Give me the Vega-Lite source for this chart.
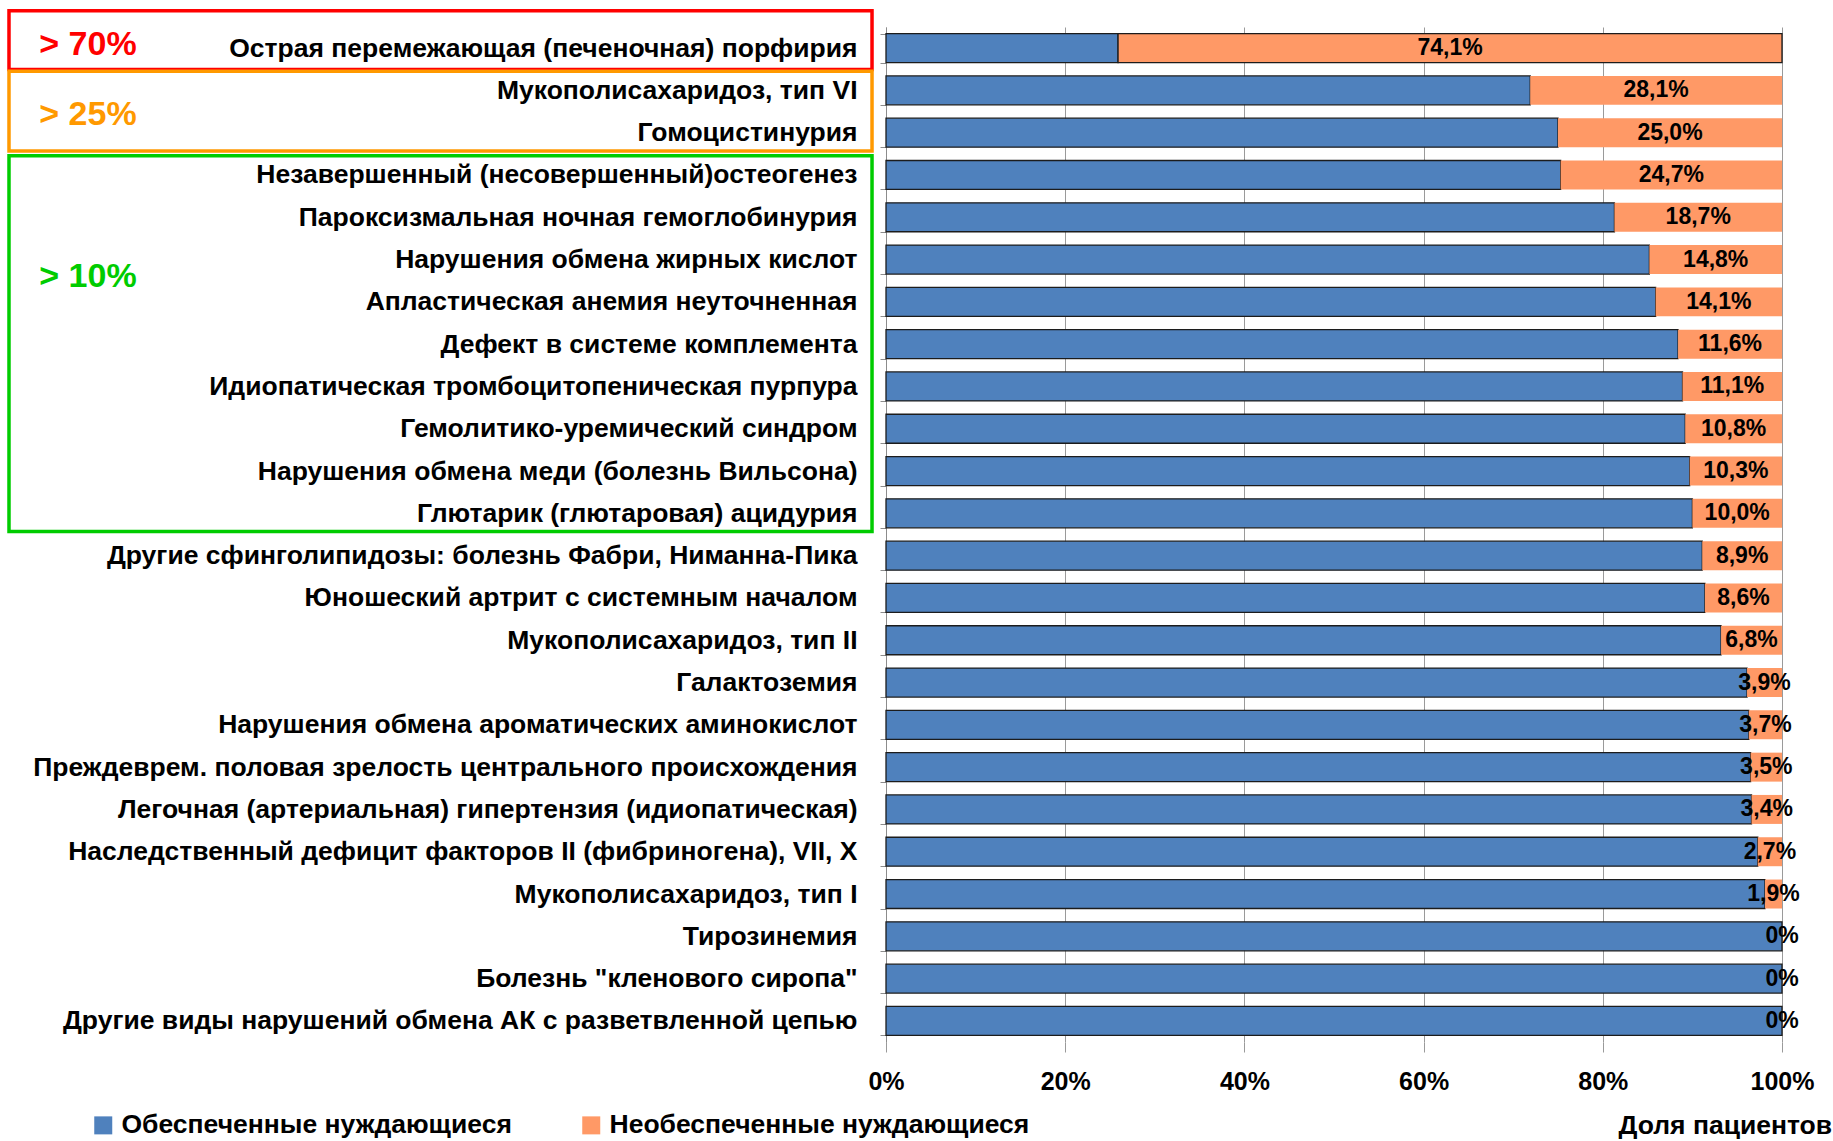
{
  "$schema": "https://vega.github.io/schema/vega-lite/v6.json",
  "autosize": "none",
  "padding": {"left": 886, "top": 27, "right": 51, "bottom": 99},
  "width": 896,
  "height": 1015,
  "background": "white",
  "config": {
    "view": {"stroke": null},
    "font": "Liberation Sans",
    "locale": {"number": {"decimal": ",", "thousands": " ", "grouping": [3], "currency": ["", " ₽"]}}
  },
  "datasets": {
    "bars": [
      {"name": "Острая перемежающая (печеночная) порфирия", "status": "Обеспеченные нуждающиеся", "pct": 0.259},
      {"name": "Острая перемежающая (печеночная) порфирия", "status": "Необеспеченные нуждающиеся", "pct": 0.741},
      {"name": "Мукополисахаридоз, тип VI", "status": "Обеспеченные нуждающиеся", "pct": 0.719},
      {"name": "Мукополисахаридоз, тип VI", "status": "Необеспеченные нуждающиеся", "pct": 0.281},
      {"name": "Гомоцистинурия", "status": "Обеспеченные нуждающиеся", "pct": 0.75},
      {"name": "Гомоцистинурия", "status": "Необеспеченные нуждающиеся", "pct": 0.25},
      {"name": "Незавершенный (несовершенный)остеогенез", "status": "Обеспеченные нуждающиеся", "pct": 0.753},
      {"name": "Незавершенный (несовершенный)остеогенез", "status": "Необеспеченные нуждающиеся", "pct": 0.247},
      {"name": "Пароксизмальная  ночная гемоглобинурия", "status": "Обеспеченные нуждающиеся", "pct": 0.813},
      {"name": "Пароксизмальная  ночная гемоглобинурия", "status": "Необеспеченные нуждающиеся", "pct": 0.187},
      {"name": "Нарушения обмена жирных кислот", "status": "Обеспеченные нуждающиеся", "pct": 0.852},
      {"name": "Нарушения обмена жирных кислот", "status": "Необеспеченные нуждающиеся", "pct": 0.148},
      {"name": "Апластическая анемия неуточненная", "status": "Обеспеченные нуждающиеся", "pct": 0.859},
      {"name": "Апластическая анемия неуточненная", "status": "Необеспеченные нуждающиеся", "pct": 0.141},
      {"name": "Дефект в системе комплемента", "status": "Обеспеченные нуждающиеся", "pct": 0.884},
      {"name": "Дефект в системе комплемента", "status": "Необеспеченные нуждающиеся", "pct": 0.116},
      {"name": "Идиопатическая тромбоцитопеническая пурпура", "status": "Обеспеченные нуждающиеся", "pct": 0.889},
      {"name": "Идиопатическая тромбоцитопеническая пурпура", "status": "Необеспеченные нуждающиеся", "pct": 0.111},
      {"name": "Гемолитико-уремический синдром", "status": "Обеспеченные нуждающиеся", "pct": 0.892},
      {"name": "Гемолитико-уремический синдром", "status": "Необеспеченные нуждающиеся", "pct": 0.108},
      {"name": "Нарушения обмена меди (болезнь Вильсона)", "status": "Обеспеченные нуждающиеся", "pct": 0.897},
      {"name": "Нарушения обмена меди (болезнь Вильсона)", "status": "Необеспеченные нуждающиеся", "pct": 0.103},
      {"name": "Глютарик (глютаровая) ацидурия", "status": "Обеспеченные нуждающиеся", "pct": 0.9},
      {"name": "Глютарик (глютаровая) ацидурия", "status": "Необеспеченные нуждающиеся", "pct": 0.1},
      {"name": "Другие сфинголипидозы: болезнь Фабри, Ниманна-Пика", "status": "Обеспеченные нуждающиеся", "pct": 0.911},
      {"name": "Другие сфинголипидозы: болезнь Фабри, Ниманна-Пика", "status": "Необеспеченные нуждающиеся", "pct": 0.089},
      {"name": "Юношеский артрит с системным началом", "status": "Обеспеченные нуждающиеся", "pct": 0.914},
      {"name": "Юношеский артрит с системным началом", "status": "Необеспеченные нуждающиеся", "pct": 0.086},
      {"name": "Мукополисахаридоз, тип II", "status": "Обеспеченные нуждающиеся", "pct": 0.932},
      {"name": "Мукополисахаридоз, тип II", "status": "Необеспеченные нуждающиеся", "pct": 0.068},
      {"name": "Галактоземия", "status": "Обеспеченные нуждающиеся", "pct": 0.961},
      {"name": "Галактоземия", "status": "Необеспеченные нуждающиеся", "pct": 0.039},
      {"name": "Нарушения обмена ароматических аминокислот", "status": "Обеспеченные нуждающиеся", "pct": 0.963},
      {"name": "Нарушения обмена ароматических аминокислот", "status": "Необеспеченные нуждающиеся", "pct": 0.037},
      {"name": "Преждеврем. половая зрелость центрального происхождения", "status": "Обеспеченные нуждающиеся", "pct": 0.965},
      {"name": "Преждеврем. половая зрелость центрального происхождения", "status": "Необеспеченные нуждающиеся", "pct": 0.035},
      {"name": "Легочная (артериальная) гипертензия (идиопатическая)", "status": "Обеспеченные нуждающиеся", "pct": 0.966},
      {"name": "Легочная (артериальная) гипертензия (идиопатическая)", "status": "Необеспеченные нуждающиеся", "pct": 0.034},
      {"name": "Наследственный дефицит факторов II (фибриногена), VII, X", "status": "Обеспеченные нуждающиеся", "pct": 0.973},
      {"name": "Наследственный дефицит факторов II (фибриногена), VII, X", "status": "Необеспеченные нуждающиеся", "pct": 0.027},
      {"name": "Мукополисахаридоз, тип I", "status": "Обеспеченные нуждающиеся", "pct": 0.981},
      {"name": "Мукополисахаридоз, тип I", "status": "Необеспеченные нуждающиеся", "pct": 0.019},
      {"name": "Тирозинемия", "status": "Обеспеченные нуждающиеся", "pct": 1},
      {"name": "Тирозинемия", "status": "Необеспеченные нуждающиеся", "pct": 0},
      {"name": "Болезнь \"кленового сиропа\"", "status": "Обеспеченные нуждающиеся", "pct": 1},
      {"name": "Болезнь \"кленового сиропа\"", "status": "Необеспеченные нуждающиеся", "pct": 0},
      {"name": "Другие виды нарушений обмена АК с разветвленной цепью", "status": "Обеспеченные нуждающиеся", "pct": 1},
      {"name": "Другие виды нарушений обмена АК с разветвленной цепью", "status": "Необеспеченные нуждающиеся", "pct": 0}
    ],
    "groups": [
      {"grp": "> 70%", "first": "Острая перемежающая (печеночная) порфирия", "last": "Острая перемежающая (печеночная) порфирия"},
      {"grp": "> 25%", "first": "Мукополисахаридоз, тип VI", "last": "Гомоцистинурия"},
      {"grp": "> 10%", "first": "Незавершенный (несовершенный)остеогенез", "last": "Глютарик (глютаровая) ацидурия"}
    ]
  },
  "layer": [
    {
      "data": {"name": "bars"},
      "mark": {"type": "bar", "stroke": "#1c1c1c"},
      "encoding": {
        "y": {
          "field": "name", "type": "nominal", "sort": null,
          "scale": {"paddingInner": 0.315, "paddingOuter": 0.156},
          "axis": {
            "title": null, "grid": false,
            "domain": true, "domainColor": "#8c8c8c", "domainWidth": 1,
            "ticks": true, "tickBand": "extent", "tickSize": 6, "tickColor": "#8c8c8c",
            "labelFont": "Liberation Sans", "labelFontSize": 26.5, "labelFontWeight": "bold",
            "labelColor": "black", "labelPadding": 23, "labelLimit": 0
          }
        },
        "x": {
          "field": "pct", "type": "quantitative", "stack": "zero",
          "scale": {"domain": [0, 1]},
          "axis": {
            "values": [0, 0.2, 0.4, 0.6, 0.8, 1], "format": ".0%",
            "grid": true, "gridColor": "#9a9a9a", "gridWidth": 1,
            "domain": false, "ticks": true, "tickSize": 10, "tickColor": "#9a9a9a",
            "labelFont": "Liberation Sans", "labelFontSize": 25, "labelFontWeight": "bold",
            "labelColor": "black", "labelPadding": 17, "labelFlush": false, "labelOverlap": false,
            "title": "Доля пациентов", "titleFont": "Liberation Sans", "titleFontSize": 26.5,
            "titleFontWeight": "bold", "titleColor": "black",
            "titleX": 732, "titleY": 91, "titleAlign": "left", "titleBaseline": "alphabetic"
          }
        },
        "order": {"field": "status", "type": "ordinal", "sort": "descending"},
        "color": {
          "field": "status", "type": "nominal",
          "scale": {"domain": ["Обеспеченные нуждающиеся", "Необеспеченные нуждающиеся"], "range": ["#4F81BD", "#FF9966"]},
          "legend": {
            "orient": "none", "legendX": -796, "legendY": 1085,
            "direction": "horizontal", "columns": 2, "title": null,
            "symbolType": "square", "symbolSize": 324, "symbolStrokeWidth": 0, "symbolOpacity": 1,
            "labelFont": "Liberation Sans", "labelFontSize": 26.5, "labelFontWeight": "bold",
            "labelColor": "black", "labelOffset": 5, "columnPadding": 66, "labelLimit": 0
          }
        },
        "strokeWidth": {
          "condition": {"test": "datum.status === 'Обеспеченные нуждающиеся' || datum.pct > 0.7", "value": 1.3},
          "value": 0
        }
      }
    },
    {
      "data": {"name": "bars"},
      "mark": {"type": "text", "font": "Liberation Sans", "fontSize": 23, "fontWeight": "bold", "color": "black", "align": "center", "baseline": "middle"},
      "encoding": {
        "y": {"field": "name", "type": "nominal", "sort": null},
        "x": {"field": "pct", "type": "quantitative", "stack": "zero", "bandPosition": 0.5, "scale": {"domain": [0, 1]}},
        "detail": {"field": "status"},
        "order": {"field": "status", "type": "ordinal", "sort": "descending"},
        "text": {
          "field": "pct", "type": "quantitative", "format": ".1%",
          "condition": [
            {"test": "datum.status === 'Обеспеченные нуждающиеся'", "value": ""},
            {"test": "datum.pct === 0", "value": "0%"}
          ]
        }
      }
    },
    {
      "data": {"name": "groups"},
      "transform": [{"filter": "datum.grp === '> 70%'"}],
      "mark": {"type": "rect", "filled": false, "strokeWidth": 3.5},
      "encoding": {
        "x": {"datum": -0.9788, "type": "quantitative", "scale": {"domain": [0, 1]}},
        "x2": {"datum": -0.0156},
        "y": {"field": "first", "type": "nominal", "sort": null, "bandPosition": -0.79},
        "y2": {"field": "last", "bandPosition": 1.24},
        "stroke": {"field": "grp", "type": "nominal", "scale": {"domain": ["> 70%", "> 25%", "> 10%"], "range": ["#FF0000", "#FF9900", "#00CC00"]}, "legend": null}
      }
    },
    {
      "data": {"name": "groups"},
      "transform": [{"filter": "datum.grp !== '> 70%'"}],
      "mark": {"type": "rect", "filled": false, "strokeWidth": 3.5},
      "encoding": {
        "x": {"datum": -0.9788, "type": "quantitative", "scale": {"domain": [0, 1]}},
        "x2": {"datum": -0.0156},
        "y": {"field": "first", "type": "nominal", "sort": null, "bandPosition": -0.16},
        "y2": {"field": "last", "bandPosition": 1.13},
        "stroke": {"field": "grp", "type": "nominal", "scale": {"domain": ["> 70%", "> 25%", "> 10%"], "range": ["#FF0000", "#FF9900", "#00CC00"]}, "legend": null}
      }
    },
    {
      "data": {"name": "groups"},
      "transform": [{"filter": "datum.grp === '> 70%'"}],
      "mark": {"type": "text", "font": "Liberation Sans", "fontSize": 34, "fontWeight": "bold", "align": "left", "baseline": "middle"},
      "encoding": {
        "x": {"datum": -0.945, "type": "quantitative", "scale": {"domain": [0, 1]}},
        "y": {"field": "first", "type": "nominal", "sort": null, "bandPosition": 0.38},
        "text": {"field": "grp"},
        "fill": {"field": "grp", "type": "nominal", "scale": {"domain": ["> 70%", "> 25%", "> 10%"], "range": ["#FF0000", "#FF9900", "#00CC00"]}, "legend": null}
      }
    },
    {
      "data": {"name": "groups"},
      "transform": [{"filter": "datum.grp === '> 25%'"}],
      "mark": {"type": "text", "font": "Liberation Sans", "fontSize": 34, "fontWeight": "bold", "align": "left", "baseline": "middle"},
      "encoding": {
        "x": {"datum": -0.945, "type": "quantitative", "scale": {"domain": [0, 1]}},
        "y": {"field": "first", "type": "nominal", "sort": null, "bandPosition": 1.36},
        "text": {"field": "grp"},
        "fill": {"field": "grp", "type": "nominal", "scale": {"domain": ["> 70%", "> 25%", "> 10%"], "range": ["#FF0000", "#FF9900", "#00CC00"]}, "legend": null}
      }
    },
    {
      "data": {"name": "groups"},
      "transform": [{"filter": "datum.grp === '> 10%'"}],
      "mark": {"type": "text", "font": "Liberation Sans", "fontSize": 34, "fontWeight": "bold", "align": "left", "baseline": "middle"},
      "encoding": {
        "x": {"datum": -0.945, "type": "quantitative", "scale": {"domain": [0, 1]}},
        "y": {"field": "first", "type": "nominal", "sort": null, "bandPosition": 4.03},
        "text": {"field": "grp"},
        "fill": {"field": "grp", "type": "nominal", "scale": {"domain": ["> 70%", "> 25%", "> 10%"], "range": ["#FF0000", "#FF9900", "#00CC00"]}, "legend": null}
      }
    }
  ]
}
